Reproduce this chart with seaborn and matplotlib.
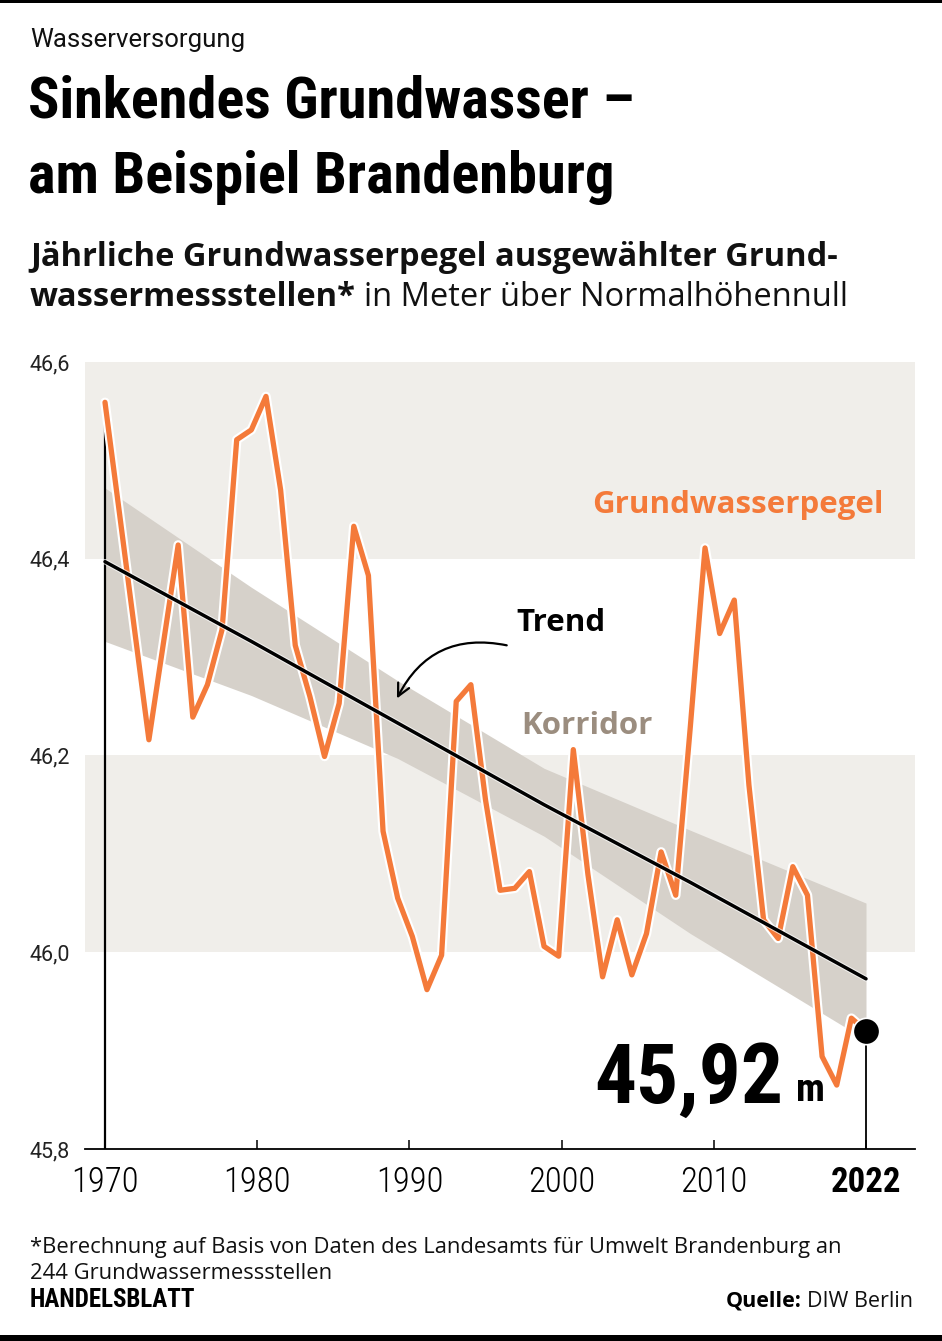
import os
import numpy as np
import pandas as pd
import matplotlib
matplotlib.use("Agg")
import matplotlib.pyplot as plt
import matplotlib.patheffects as pe
from matplotlib.patches import Rectangle
from matplotlib import font_manager as fm
import seaborn as sns

# ---------------- data ----------------
years = list(range(1970, 2023))
pegel = [46.559, 46.445, 46.330, 46.216, 46.315, 46.414, 46.239, 46.272, 46.328, 46.521,
         46.531, 46.565, 46.470, 46.312, 46.260, 46.199, 46.253, 46.433, 46.383, 46.123,
         46.055, 46.016, 45.962, 45.997, 46.255, 46.272, 46.155, 46.063, 46.065, 46.082,
         46.006, 45.996, 46.206, 46.079, 45.975, 46.033, 45.977, 46.019, 46.102, 46.058,
         46.230, 46.411, 46.324, 46.358, 46.170, 46.033, 46.014, 46.087, 46.058, 45.894,
         45.865, 45.933, 45.920]
trend_years = [1970, 1980, 1990, 2000, 2010, 2022]
trend_vals = [46.397, 46.316, 46.233, 46.150, 46.071, 45.973]
korridor_years = [1970, 1980, 1990, 2000, 2010, 2022]
korridor_oben = [46.472, 46.371, 46.276, 46.187, 46.124, 46.050]
korridor_unten = [46.316, 46.261, 46.197, 46.118, 46.019, 45.911]
y_ticks = [45.8, 46.0, 46.2, 46.4, 46.6]
y_labels = ["45,8", "46,0", "46,2", "46,4", "46,6"]
x_labels = ["1970", "1980", "1990", "2000", "2010", "2022"]
bands = [(46.4, 46.6), (46.0, 46.2)]
last_year = 2022
last_value = 45.92

# ---------------- style ----------------
ORANGE = "#F47A3A"
BAND = "#F0EEEA"
CORR = "#D6D1CA"
KORR_TXT = "#9B8D7F"

sns.set_theme(style="white")
SANS = ["Open Sans", "DejaVu Sans"]
plt.rcParams["font.family"] = SANS

entries = [(os.path.basename(f.fname).lower().replace(" ", ""), f.fname) for f in fm.fontManager.ttflist]


def pick(prefs):
    for p in prefs:
        for base, path in entries:
            if base.startswith(p):
                return path
    return None


heavy_path = pick(["robotocondensed-black", "robotocondensed-extrabold", "robotocondensed-bold"])
bold_path = pick(["robotocondensed-bold"])
reg_path = pick(["robotocondensed-regular"])
light_path = pick(["robotocondensed-light.", "robotocondensed-light", "robotocondensed-regular"])


def fp(path, size, fallback_weight="normal"):
    if path:
        return fm.FontProperties(fname=path, size=size)
    return fm.FontProperties(family=["DejaVu Sans"], size=size, weight=fallback_weight)


W, H = 942, 1341
fig = plt.figure(figsize=(W / 100, H / 100), dpi=100)
fig.patch.set_facecolor("white")


def fx(x):
    return x / W


def fy(y):
    return 1 - y / H


ax = fig.add_axes([fx(85), fy(1149), 830 / W, 787 / H])
ax.set_facecolor("white")
px_per_year = 14.635
ax.set_xlim(1970 - 20 / px_per_year, 2022 + 49 / px_per_year)
ax.set_ylim(45.8, 46.6)

for lo, hi in bands:
    ax.axhspan(lo, hi, color=BAND, lw=0, zorder=0)

ax.fill_between(korridor_years, korridor_unten, korridor_oben, color=CORR, lw=0, zorder=1)

ax.vlines(years[0], 45.8, pegel[0], color="black", lw=1.6, zorder=2)
ax.vlines(last_year, 45.8, last_value, color="black", lw=1.3, zorder=2)

df = pd.DataFrame({"Jahr": years, "Pegel": pegel})
sns.lineplot(data=df, x="Jahr", y="Pegel", ax=ax, color=ORANGE, linewidth=3.8,
             zorder=3, sort=False)
ln = ax.lines[-1]
ln.set_solid_joinstyle("round")
ln.set_path_effects([pe.Stroke(linewidth=6.9, foreground="white", joinstyle="round"), pe.Normal()])

dt = pd.DataFrame({"Jahr": trend_years, "Trend": trend_vals})
sns.lineplot(data=dt, x="Jahr", y="Trend", ax=ax, color="black", linewidth=2.5, zorder=4)
ax.lines[-1].set_path_effects([pe.Stroke(linewidth=4.0, foreground="white", alpha=0.7), pe.Normal()])

ax.plot([last_year], [last_value], "o", color="black", markersize=19,
        markeredgecolor="white", markeredgewidth=1.2, zorder=6)

for s in ["top", "right", "left"]:
    ax.spines[s].set_visible(False)
ax.spines["bottom"].set_color("black")
ax.spines["bottom"].set_linewidth(1.3)
ax.grid(False)

xt = np.linspace(1970, 2022, len(x_labels))
ax.set_xticks(xt)
ax.set_xticklabels(x_labels)
for i, lbl in enumerate(ax.get_xticklabels()):
    last = i == len(x_labels) - 1
    lbl.set_fontproperties(fp(bold_path if last else light_path, 25, "bold" if last else "normal"))
ax.tick_params(axis="x", direction="in", length=6.5, width=1.1, color="black", pad=12,
               labelcolor="black", bottom=True)
ax.set_yticks(y_ticks)
ax.set_yticklabels(y_labels, ha="left")
for lbl in ax.get_yticklabels():
    lbl.set_fontproperties(fm.FontProperties(family=["Roboto", "DejaVu Sans"], size=15.5))
ax.tick_params(axis="y", length=0, pad=40, labelcolor="#222222")
ax.set_xlabel("")
ax.set_ylabel("")

ax.text(2003.28, 46.455, "Grundwasserpegel", color=ORANGE, fontsize=22.5, fontweight="bold",
        va="center", ha="left", family=SANS, zorder=7)
ax.text(1998.08, 46.335, "Trend", color="black", fontsize=22.5, fontweight="bold",
        va="center", ha="left", family=SANS, zorder=7)
ax.text(1998.43, 46.23, "Korridor", color=KORR_TXT, fontsize=22.5, fontweight="bold",
        va="center", ha="left", family=SANS, zorder=7)
ax.annotate("", xy=(1989.95, 46.258), xytext=(1997.45, 46.312),
            arrowprops=dict(arrowstyle="->", color="black", lw=1.6,
                            connectionstyle="arc3,rad=0.38", mutation_scale=22,
                            shrinkA=0, shrinkB=0), zorder=7)

ax.text(2016.33, 45.847, "45,92", fontproperties=fp(heavy_path, 60, "bold"),
        ha="right", va="baseline", color="black", zorder=7)
ax.text(2017.2, 45.849, "m", fontproperties=fp(heavy_path, 28, "bold"),
        ha="left", va="baseline", color="black", zorder=7)

# header
fig.text(fx(30), fy(47), "Wasserversorgung",
         fontproperties=fm.FontProperties(family=["Roboto", "DejaVu Sans"], size=18.5),
         va="baseline", ha="left", color="#111111")
fig.text(fx(28), fy(118), "Sinkendes Grundwasser –", fontproperties=fp(heavy_path, 42, "bold"),
         va="baseline", ha="left", color="black")
fig.text(fx(28), fy(193), "am Beispiel Brandenburg", fontproperties=fp(heavy_path, 42, "bold"),
         va="baseline", ha="left", color="black")
fig.text(fx(30), fy(266), "Jährliche Grundwasserpegel ausgewählter Grund-", fontsize=23.5,
         fontweight="bold", family=SANS, va="baseline", ha="left", color="#111111")
t_b = fig.text(fx(30), fy(306), "wassermessstellen*", fontsize=23.5, fontweight="bold",
               family=SANS, va="baseline", ha="left", color="#111111")
renderer = fig.canvas.get_renderer()
bb = t_b.get_window_extent(renderer=renderer)
fig.text(bb.x1 / W + fx(8), fy(306), "in Meter über Normalhöhennull", fontsize=23.5,
         family=SANS, va="baseline", ha="left", color="#111111")

# footer
fig.text(fx(30), fy(1253), "*Berechnung auf Basis von Daten des Landesamts für Umwelt Brandenburg an",
         fontsize=15.8, family=SANS, va="baseline", ha="left", color="#111111")
fig.text(fx(30), fy(1279), "244 Grundwassermessstellen", fontsize=15.8, family=SANS,
         va="baseline", ha="left", color="#111111")
fig.text(fx(30), fy(1307), "HANDELSBLATT", fontproperties=fp(bold_path, 18, "bold"),
         va="baseline", ha="left", color="black")
t_q = fig.text(fx(913), fy(1307), "DIW Berlin", fontsize=15.5, family=SANS,
               va="baseline", ha="right", color="#111111")
bq = t_q.get_window_extent(renderer=renderer)
fig.text(bq.x0 / W - fx(5), fy(1307), "Quelle:", fontsize=15.5, fontweight="bold", family=SANS,
         va="baseline", ha="right", color="black")

fig.add_artist(Rectangle((0, fy(3)), 1, 3 / H, transform=fig.transFigure, color="black", lw=0))
fig.add_artist(Rectangle((0, 0), 1, 6 / H, transform=fig.transFigure, color="black", lw=0))

fig.savefig("out.png", dpi=100, facecolor="white")
